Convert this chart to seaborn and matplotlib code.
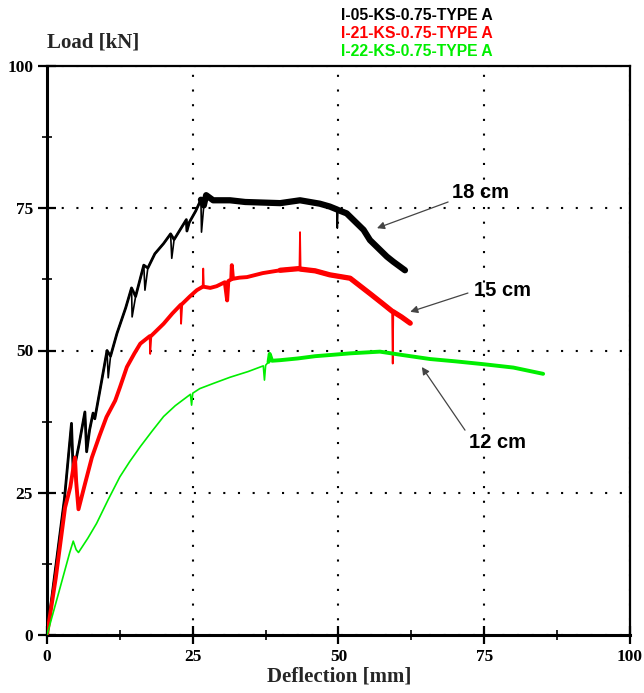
import matplotlib
matplotlib.use("Agg")
import matplotlib.pyplot as plt
import seaborn as sns
import numpy as np
from matplotlib.ticker import MultipleLocator

# ---------------- data ----------------
series_names = ["I-05-KS-0.75-TYPE A", "I-21-KS-0.75-TYPE A", "I-22-KS-0.75-TYPE A"]
series_colors = ["#000000", "#ff0000", "#00ee00"]
curve_labels = ["18 cm", "15 cm", "12 cm"]

x_18 = [0, 1.5, 3.0, 4.2, 4.5, 5.5, 6.5, 6.8, 7.3, 7.9, 8.2, 9.4, 10.3, 10.5, 10.9,
        12.0, 13.5, 14.5, 14.6, 15.2, 16.6, 16.8, 17.3, 18.5, 20.0, 21.2, 21.4, 21.8,
        23.0, 23.9, 24.0, 24.4, 25.5, 26.4, 26.5, 26.9, 27.3, 28.5, 31.4, 34.0, 37.0,
        40.0, 43.4, 46.8, 48.5, 49.7, 49.8, 49.9, 51.4, 53.1, 54.3, 55.4, 57.1, 58.3,
        59.4, 61.4]
y_18 = [0, 12, 24, 37.2, 28.4, 33.5, 39.2, 32.2, 36, 39, 38, 44.8, 50, 45.2, 49,
        53, 57.5, 61, 55.9, 59.5, 65, 60.6, 64.5, 67, 68.8, 70.5, 66.2, 69.5,
        71.5, 73, 71, 72.5, 74.5, 76.5, 70.8, 75.5, 77.3, 76.4, 76.4, 76.1, 76.0,
        75.9, 76.4, 75.8, 75.3, 74.8, 71.5, 74.7, 74.1, 72.4, 71.2, 69.4, 67.7, 66.5,
        65.6, 64.1]

x_15 = [0, 1.5, 3.1, 4.0, 4.8, 5.0, 5.4, 6.5, 7.7, 9.0, 10.2, 11.7, 12.5, 13.7, 15.0,
        16.0, 17.6, 17.7, 17.9, 20.0, 21.5, 22.9, 23.0, 23.2, 24.5, 25.7, 26.7, 26.8,
        26.9, 28.0, 29.1, 30.5, 30.9, 31.1, 31.6, 31.7, 31.9, 33.0, 34.3, 37.0, 40.0,
        43.3, 43.4, 43.5, 46.0, 48.5, 52.0, 55.4, 57.5, 59.2, 59.3, 59.4, 60.8, 62.3]
y_15 = [0, 10, 22.4, 26, 31.2, 27, 22.1, 26.5, 31.2, 35, 38.3, 41.2, 43.5, 47.1, 49.5,
        51.2, 52.5, 49.4, 52.6, 54.7, 56.5, 58, 54.7, 58.2, 59.5, 60.6, 61.2, 64.4,
        61.2, 61.0, 61.3, 62, 58.8, 62.2, 62.5, 65.0, 62.6, 62.8, 62.9, 63.6, 64.1,
        64.4, 70.8, 64.3, 64.0, 63.3, 62.7, 60.0, 58.3, 56.9, 47.7, 56.8, 55.9, 54.8]

x_12 = [0, 2.0, 3.9, 4.5, 5.0, 5.4, 7.0, 8.5, 10.5, 12.5, 14.2, 16.0, 18.0, 20.0, 22.0,
        24.6, 24.8, 25.0, 26.2, 28.5, 31.4, 34.5, 37.1, 37.3, 37.5, 38.0, 38.2, 38.6,
        40.0, 43.0, 46.0, 48.5, 52.0, 57.1, 61.0, 65.7, 70.0, 74.8, 80.0, 85.1]
y_12 = [0, 7.4, 14.5, 16.5, 15, 14.5, 17, 19.6, 23.8, 27.8, 30.5, 33.1, 35.8, 38.4, 40.3,
        42.3, 40.4, 42.5, 43.3, 44.2, 45.3, 46.3, 47.3, 44.8, 47.4, 48.0, 49.4, 48.2,
        48.3, 48.6, 49.0, 49.2, 49.5, 49.8, 49.2, 48.5, 48.1, 47.6, 47.0, 45.9]

# annotation: text position, arrow tail, arrow head (data units)
label_pos = [(74.4, 77.7), (78.2, 60.6), (77.2, 33.9)]
arrow_tail = [(68.8, 76.1), (72.2, 60.1), (71.7, 36.0)]
arrow_head = [(56.6, 71.5), (62.3, 56.8), (64.3, 47.1)]

x_ticks = [0, 25, 50, 75, 100]
y_ticks = [0, 25, 50, 75, 100]

# ---------------- style ----------------
sns.set_theme(style="white")
plt.rcParams["font.family"] = ["DejaVu Sans"]

fig = plt.figure(figsize=(6.44, 6.93), dpi=100)
ax = fig.add_axes([47 / 644, 1 - 635 / 693, (630 - 47) / 644, (635 - 66) / 693])

series = [(x_18, y_18), (x_15, y_15), (x_12, y_12)]
base_lw = [1.2, 1.3, 1.2]
# overlay bands (start x, linewidth) drawn without the isolated spikes
overlays = [[(0.0, 2.0), (26.4, 4.5)],
            [(0.0, 2.8), (38.0, 3.8)],
            [(38.0, 2.8)]]


def spike_mask(xs, ys, thr=2.5, gap=0.21):
    """True for isolated, near-vertical jumps away from both neighbours."""
    xs = np.asarray(xs, dtype=float)
    ys = np.asarray(ys, dtype=float)
    m = np.zeros(len(ys), dtype=bool)
    for i in range(1, len(ys) - 1):
        d1 = ys[i] - ys[i - 1]
        d2 = ys[i] - ys[i + 1]
        if (abs(d1) > thr and abs(d2) > thr and np.sign(d1) == np.sign(d2)
                and xs[i] - xs[i - 1] <= gap):
            m[i] = True
    return m


for (xs, ys), col, bl, ovs in zip(series, series_colors, base_lw, overlays):
    xs = np.asarray(xs, dtype=float)
    ys = np.asarray(ys, dtype=float)
    sns.lineplot(x=xs, y=ys, sort=False, estimator=None, color=col, lw=bl, ax=ax, zorder=3)
    sp = spike_mask(xs, ys)
    for start, lw in ovs:
        m = (xs >= start) & ~sp
        sns.lineplot(x=xs[m], y=ys[m], sort=False, estimator=None, color=col, lw=lw,
                     ax=ax, zorder=3)

ax.set_xlim(0, 100)
ax.set_ylim(0, 100)
ax.set_xticks(x_ticks)
ax.set_yticks(y_ticks)
ax.xaxis.set_minor_locator(MultipleLocator(12.5))
ax.yaxis.set_minor_locator(MultipleLocator(12.5))
ax.set_xlabel("")
ax.set_ylabel("")

tick_font = dict(family="Liberation Serif", weight="bold", size=12.5)
ax.set_xticklabels([str(t) for t in x_ticks], fontdict=tick_font)
ax.set_yticklabels([str(t) for t in y_ticks], fontdict=tick_font)
ax.tick_params(which="major", direction="inout", length=13, width=1.6, pad=3.5,
               colors="black", bottom=True, left=True, top=False, right=False)
ax.tick_params(which="minor", direction="inout", length=7, width=1.4,
               bottom=True, left=True, top=False, right=False)

for side in ["left", "bottom"]:
    ax.spines[side].set_linewidth(2.2)
    ax.spines[side].set_color("black")
for side in ["top", "right"]:
    ax.spines[side].set_linewidth(1.6)
    ax.spines[side].set_color("black")

ax.grid(True, which="major", color="black", linestyle=(0, (1, 6.05)), lw=1.5, zorder=1)
ax.set_axisbelow(True)

# axis titles
fig.text(47 / 644, 1 - 43 / 693, "Load [kN]", family="Liberation Serif", weight="bold",
         size=15, ha="left", va="center")
fig.text(339 / 644, 1 - 677 / 693, "Deflection [mm]", family="Liberation Serif",
         weight="bold", size=15, ha="center", va="center")

# legend as colored text
for i, (name, col) in enumerate(zip(series_names, series_colors)):
    fig.text(341 / 644, 1 - (15 + 18.5 * i) / 693, name, color=col,
             family="Liberation Sans", weight="bold", size=11.3, ha="left", va="center")

# annotations
for lab, tp, tail, head in zip(curve_labels, label_pos, arrow_tail, arrow_head):
    ax.text(tp[0], tp[1], lab, family="Liberation Sans", weight="bold", size=14.5,
            ha="center", va="center", color="black", zorder=5)
    ax.annotate("", xy=head, xytext=tail,
                arrowprops=dict(arrowstyle="-|>", color="#444444", lw=0.9,
                                mutation_scale=11, shrinkA=0, shrinkB=0), zorder=5)

fig.savefig("out.png", dpi=100)
